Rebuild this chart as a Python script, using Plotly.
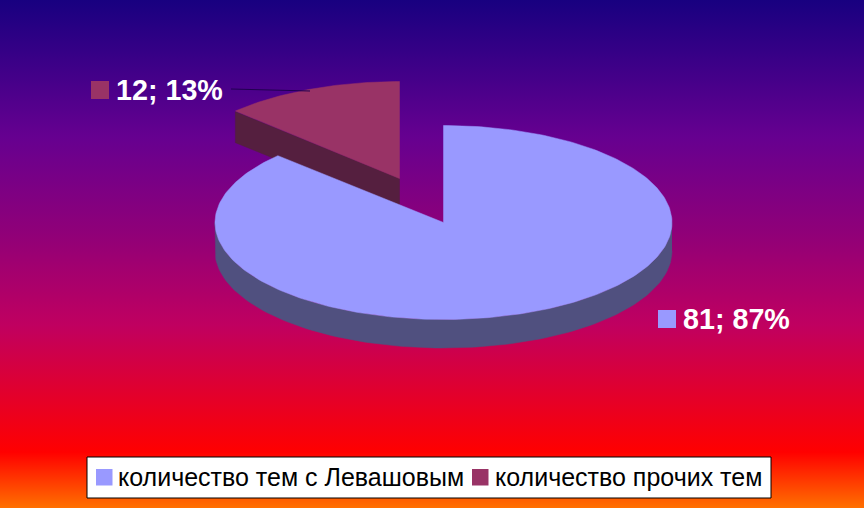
import numpy as np
import plotly.graph_objects as go

# chart data
categories = ["количество тем с Левашовым", "количество прочих тем"]
values = [81, 12]
point_labels = ["81; 87%", "12; 13%"]

top_colors = ["#9999ff", "#993366"]
side_colors = ["#50507f", "#551f3f"]

bg_stops = [
    [0.0, "#180080"], [0.27, "#660090"], [0.46, "#900078"], [0.64, "#c00060"],
    [0.89, "#ff0000"], [1.0, "#ff7000"],
]

W, H = 864, 508
cx, cy = 443.5, 222.5
rx, ry = 228.5, 97
depth = 28.5
cut_depth = 31
explode = (-44, -44)


def ell(deg, dx=0, dy=0):
    # clockwise from 12 o'clock
    t = np.radians(deg)
    return cx + dx + rx * np.sin(t), cy + dy - ry * np.cos(t)


fractions = np.array(values) / sum(values)
split = 360 * fractions[0]

fig = go.Figure()

# background
fig.add_trace(go.Scatter(
    x=[0, W, W, 0, 0], y=[0, 0, H, H, 0], mode="none", fill="toself",
    fillgradient=dict(type="vertical", colorscale=bg_stops, start=0, stop=H),
    showlegend=False, hoverinfo="skip",
))


def poly(x, y, color):
    fig.add_trace(go.Scatter(
        x=x, y=y, mode="lines", fill="toself", fillcolor=color,
        line=dict(color=color, width=0.5), showlegend=False, hoverinfo="skip",
    ))


# pulled out slice, cut face then top
dx, dy = explode
ax, ay = cx + dx, cy + dy
ex, ey = ell(split, dx, dy)
ex += 1.5
poly([ax, ex, ex, ax, ax], [ay, ey, ey + cut_depth, ay + cut_depth, ay], side_colors[1])

a = np.linspace(split, 360, 80)
x1, y1 = ell(a, dx, dy)
x1 = np.maximum(x1, ex)
poly(np.r_[ax, x1, ax], np.r_[ay, y1, ay], top_colors[1])

# big slice goes over the bottom of that cut face
a = np.linspace(90, 270, 120)
x1, y1 = ell(a)
x2, y2 = ell(a[::-1], 0, depth)
poly(np.r_[x1, x2], np.r_[y1, y2], side_colors[0])

a = np.linspace(0, split, 300)
x1, y1 = ell(a)
poly(np.r_[cx, x1, cx], np.r_[cy, y1, cy], top_colors[0])

# leader line
fig.add_trace(go.Scatter(
    x=[231, 310], y=[89, 91], mode="lines", line=dict(color="#200050", width=1),
    showlegend=False, hoverinfo="skip",
))

shapes = [
    dict(type="rect", x0=87, x1=771, y0=457, y1=498, fillcolor="white",
         line=dict(color="black", width=1)),
    dict(type="rect", x0=96, x1=112.5, y0=469, y1=485.5, fillcolor=top_colors[0], line_width=0),
    dict(type="rect", x0=472, x1=488.5, y0=469, y1=485.5, fillcolor=top_colors[1], line_width=0),
    dict(type="rect", x0=91, x1=109, y0=81, y1=99, fillcolor=top_colors[1], line_width=0),
    dict(type="rect", x0=658, x1=676, y0=310, y1=328, fillcolor=top_colors[0], line_width=0),
]

label_font = dict(family="Liberation Sans", size=28.7, color="white")
legend_font = dict(family="Liberation Sans", size=25, color="black")
annotations = [
    dict(x=683, y=319, text=f"<b>{point_labels[0]}</b>", font=label_font),
    dict(x=116, y=90, text=f"<b>{point_labels[1]}</b>", font=label_font),
    dict(x=118, y=477, text=categories[0], font=legend_font),
    dict(x=495, y=477, text=categories[1], font=legend_font),
]
for ann in annotations:
    ann.update(xref="x", yref="y", xanchor="left", yanchor="middle", showarrow=False,
               borderpad=0, xshift=-1)

fig.update_layout(
    width=W, height=H, margin=dict(l=0, r=0, t=0, b=0, pad=0),
    paper_bgcolor="#660090", plot_bgcolor="rgba(0,0,0,0)",
    xaxis=dict(range=[0, W], visible=False, fixedrange=True),
    yaxis=dict(range=[H, 0], visible=False, fixedrange=True),
    shapes=shapes, annotations=annotations, showlegend=False,
)

fig.write_html("out.html", config={"displayModeBar": False},
               post_script="document.body.style.margin='0';document.body.style.overflow='hidden';")
